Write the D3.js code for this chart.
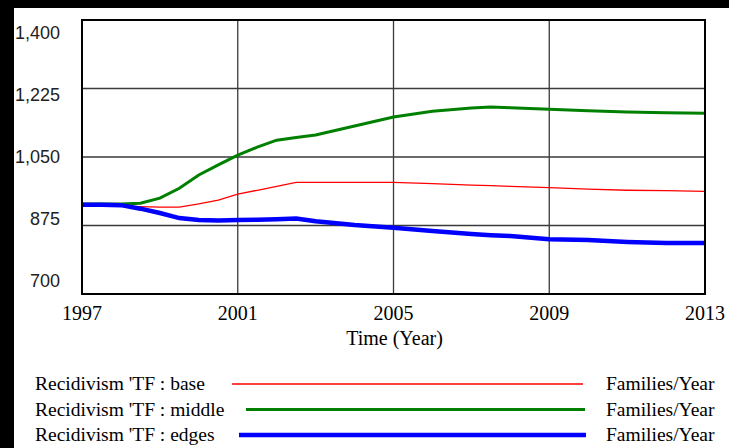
<!DOCTYPE html>
<html>
<head>
<meta charset="utf-8">
<script src="https://cdn.jsdelivr.net/npm/d3@7"></script>
<style>
  body { margin: 0; background: #000; }
  svg { display: block; }
</style>
</head>
<body>
<div id="chart"></div>
<script>
// data
var years   = [1997, 1997.5, 1998, 1998.5, 1999, 1999.5, 2000, 2000.5, 2001, 2001.5, 2002, 2002.5, 2003, 2004, 2005, 2006, 2007, 2007.5, 2008, 2009, 2010, 2011, 2012, 2013];
var base    = [925, 928, 925, 923, 922, 922, 930, 940, 955, 965, 975, 985, 985, 985, 985, 982, 978, 977, 975, 972, 968, 965, 964, 962];
var middle  = [930, 930, 930, 932, 945, 970, 1004, 1030, 1055, 1075, 1093, 1100, 1106, 1129, 1152, 1167, 1175, 1178, 1176, 1172, 1168, 1165, 1163, 1162];
var edges   = [928, 928, 927, 918, 907, 894, 889, 888, 889, 890, 891, 893, 886, 876, 869, 861, 853, 850, 848, 840, 838, 833, 830, 830];
var yTicks  = [700, 875, 1050, 1225, 1400];
var xTicks  = [1997, 2001, 2005, 2009, 2013];
var seriesNames = ["Recidivism 'TF : base", "Recidivism 'TF : middle", "Recidivism 'TF : edges"];
var seriesUnit = "Families/Year";

var w = 729, h = 448;
var svg = d3.select("#chart").append("svg").attr("width", w).attr("height", h);

// white panel inside the black frame
svg.append("rect").attr("x", 14).attr("y", 8).attr("width", w - 14).attr("height", h - 8).attr("fill", "#fff");

var margin = {top: 20, left: 82, right: 24, bottom: 154},
    width = w - margin.left - margin.right,
    height = h - margin.top - margin.bottom;

var x = d3.scaleLinear().domain([1997, 2013]).range([0, width]),
    y = d3.scaleLinear().domain([700, 1400]).range([height, 0]),
    // tick labels sit inset from the top/bottom lines, evenly spread
    yLab = d3.scaleLinear().domain([700, 1400]).range([height - 13, 13]);

var g = svg.append("g").attr("transform", "translate(" + margin.left + "," + margin.top + ")");

// grid
g.selectAll(".hgrid").data(yTicks).enter().append("line")
    .attr("x1", 0).attr("x2", width)
    .attr("y1", function(d) { return y(d); }).attr("y2", function(d) { return y(d); })
    .attr("stroke", "#3a3a3a").attr("stroke-width", 1.3);
g.selectAll(".vgrid").data(xTicks).enter().append("line")
    .attr("y1", 0).attr("y2", height)
    .attr("x1", function(d) { return x(d); }).attr("x2", function(d) { return x(d); })
    .attr("stroke", "#3a3a3a").attr("stroke-width", 1.3);

// y tick labels
g.selectAll(".ylab").data(yTicks).enter().append("text")
    .attr("x", -22).attr("y", function(d) { return yLab(d); })
    .attr("dy", "0.36em")
    .attr("text-anchor", "end")
    .style("font-family", "Liberation Sans, Arial, sans-serif")
    .style("font-size", "18px")
    .attr("fill", "#222")
    .text(d3.format(","));

// x tick labels
g.selectAll(".xlab").data(xTicks).enter().append("text")
    .attr("x", function(d) { return x(d); }).attr("y", height + 26)
    .attr("text-anchor", "middle")
    .style("font-family", "Liberation Serif, Times New Roman, serif")
    .style("font-size", "20px")
    .attr("fill", "#000")
    .text(function(d) { return d; });

svg.append("text")
    .attr("x", margin.left + width / 2 + 1).attr("y", 345)
    .attr("text-anchor", "middle")
    .style("font-family", "Liberation Serif, Times New Roman, serif")
    .style("font-size", "20px")
    .text("Time (Year)");

// series
var series = [
  {name: seriesNames[0], values: base,   color: "#ff0000", width: 1.3, lx: [232, 583]},
  {name: seriesNames[1], values: middle, color: "#008000", width: 3,   lx: [246, 585]},
  {name: seriesNames[2], values: edges,  color: "#0000ff", width: 4.5, lx: [239, 586]}
];

var line = d3.line()
    .x(function(d, i) { return x(years[i]); })
    .y(function(d) { return y(d); });

series.forEach(function(s) {
  g.append("path")
      .datum(s.values)
      .attr("fill", "none")
      .attr("stroke", s.color)
      .attr("stroke-width", s.width)
      .attr("d", line);
});

// frame
g.append("rect").attr("width", width).attr("height", height)
    .attr("fill", "none").attr("stroke", "#000").attr("stroke-width", 2);

// legend
var legend = svg.append("g").attr("class", "legend");
series.forEach(function(s, i) {
  var ly = 384 + i * 25.5;
  legend.append("text")
      .attr("x", 35).attr("y", ly).attr("dy", "0.33em")
      .style("font-family", "Liberation Serif, Times New Roman, serif")
      .style("font-size", "19.5px")
      .text(s.name);
  legend.append("line")
      .attr("x1", s.lx[0]).attr("x2", s.lx[1]).attr("y1", ly).attr("y2", ly)
      .attr("stroke", s.color).attr("stroke-width", s.width);
  legend.append("text")
      .attr("x", 606).attr("y", ly).attr("dy", "0.33em")
      .style("font-family", "Liberation Serif, Times New Roman, serif")
      .style("font-size", "19.5px")
      .text(seriesUnit);
});
</script>
</body>
</html>
